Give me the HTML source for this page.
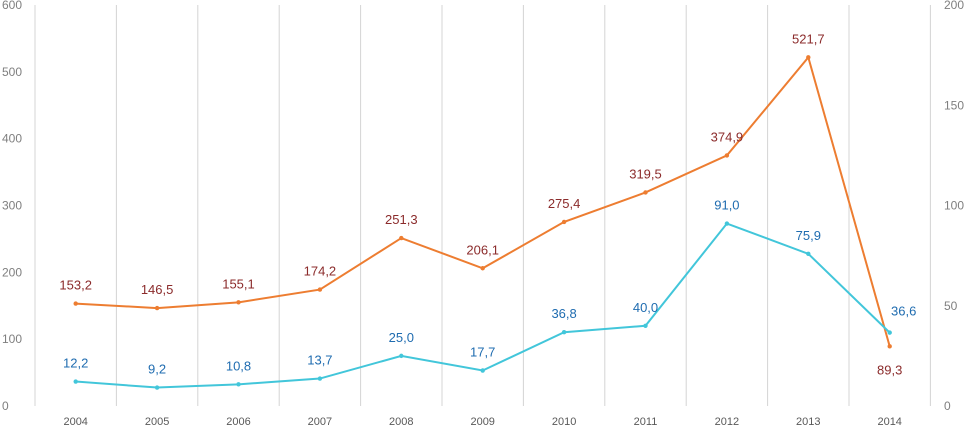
<!DOCTYPE html>
<html><head><meta charset="utf-8"><style>
body{margin:0;background:#fff;}
svg text{font-family:"Liberation Sans",sans-serif;}
</style></head><body>
<svg id="c" width="967" height="427"></svg>
<script>
const categories=["2004","2005","2006","2007","2008","2009","2010","2011","2012","2013","2014"];
const seriesLeft=[153.2,146.5,155.1,174.2,251.3,206.1,275.4,319.5,374.9,521.7,89.3];
const seriesRight=[12.2,9.2,10.8,13.7,25.0,17.7,36.8,40.0,91.0,75.9,36.6];
const leftTicks=[0,100,200,300,400,500,600];
const rightTicks=[0,50,100,150,200];
const svg=document.getElementById('c');
const NS='http://www.w3.org/2000/svg';
const x0=35,step=81.4,yB=406,yT=5;
const xs=i=>x0+step*(i+0.5);
const yL=v=>yB-(v/600)*(yB-yT);
const yR=v=>yB-(v/200)*(yB-yT);
function el(t,a,txt){const e=document.createElementNS(NS,t);for(const k in a)e.setAttribute(k,a[k]);if(txt!=null)e.textContent=txt;svg.appendChild(e);return e;}
for(let i=0;i<=categories.length;i++){
 const g=el('line',{x1:x0+step*i,x2:x0+step*i,y1:yT,y2:yB,stroke:'#d4d4d4','stroke-width':1});
 
 
}
leftTicks.forEach(v=>{const t=el('text',{x:2,y:yL(v)+4,'font-size':12,fill:'#7f7f7f'},String(v));
 
 });
rightTicks.forEach(v=>{const t=el('text',{x:944,y:yR(v)+4,'font-size':12,fill:'#7f7f7f'},String(v));
 
 });
categories.forEach((c,i)=>{const t=el('text',{x:xs(i),y:425,'font-size':11,fill:'#595959','text-anchor':'middle'},c);
 
 });
function series(vals,yf,color,lc,name,lastMode){
 const p=el('polyline',{points:vals.map((v,i)=>xs(i)+','+yf(v)).join(' '),fill:'none',stroke:color,'stroke-width':2});
 
 
 vals.forEach((v,i)=>{
  const m=el('circle',{cx:xs(i),cy:yf(v),r:2.2,fill:color});
  
  
  const last=i===vals.length-1;
  let lx=xs(i),ly=yf(v)-14;
  if(last&&lastMode==='below'){ly=yf(v)+28;}
  if(last&&lastMode==='right'){lx=xs(i)+14;ly=yf(v)-17;}
  const t=el('text',{x:lx,y:ly,'font-size':13,fill:lc,'text-anchor':'middle'},v.toFixed(1).replace('.',','));
  
  
 });
}
series(seriesLeft,yL,'#ED7D31','#8B2B2B','left-series','below');
series(seriesRight,yR,'#42C6DA','#1F6CB0','right-series','right');
</script>
</body></html>
